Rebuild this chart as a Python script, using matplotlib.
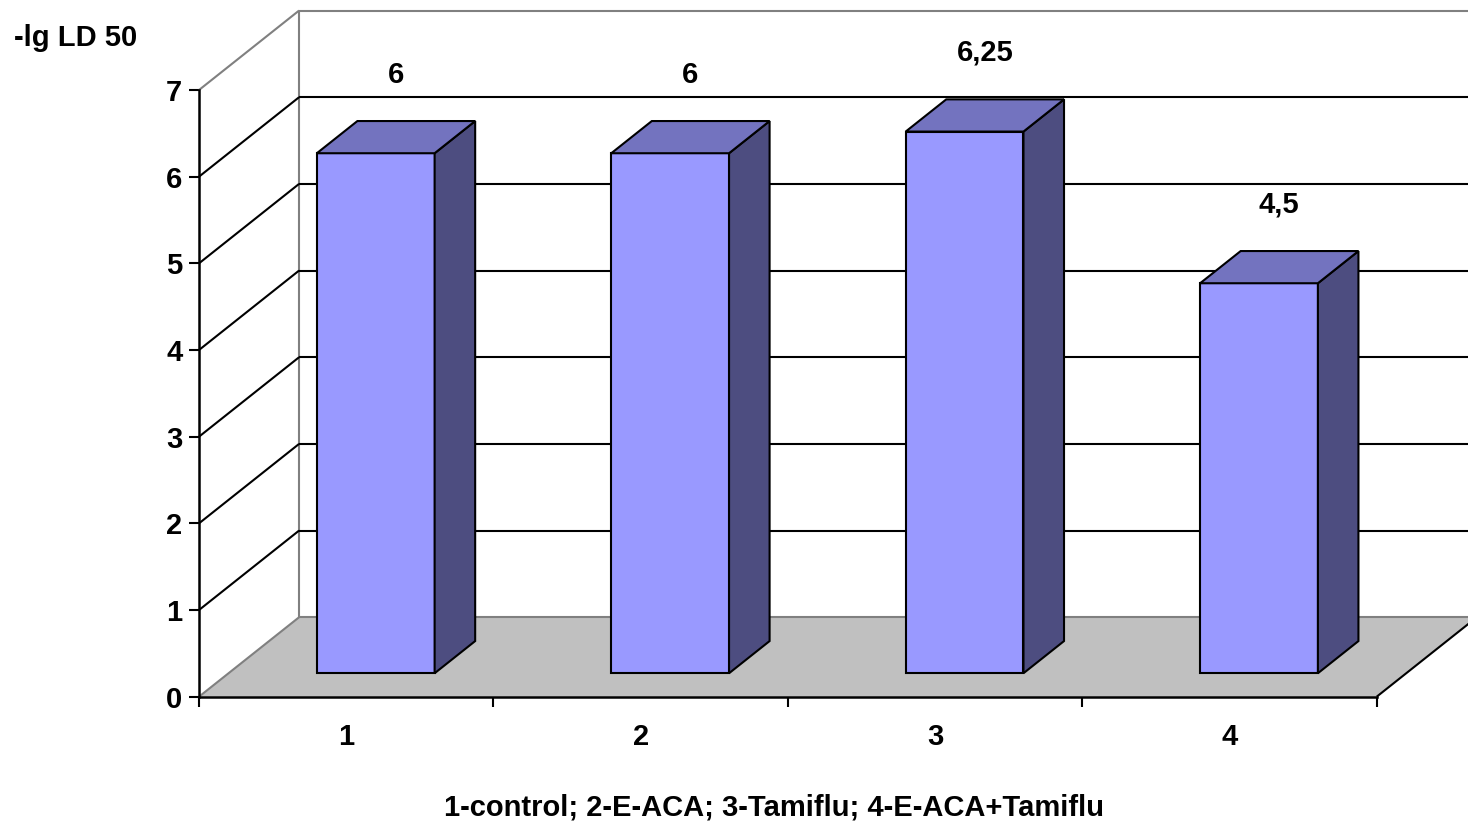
import matplotlib
matplotlib.use('Agg')
import matplotlib.pyplot as plt
from matplotlib.patches import Polygon

plt.rcParams['font.family'] = ['Liberation Sans', 'DejaVu Sans']
plt.rcParams['font.weight'] = 'bold'

# data
groups = ['1', '2', '3', '4']
values = [6, 6, 6.25, 4.5]
labels = ['6', '6', '6,25', '4,5']
yticks = [0, 1, 2, 3, 4, 5, 6, 7]
ymax = 7

# fake 3d depth (in data units)
dx = 0.34
dy = 0.917
d0, d1 = 0.295, 0.70   # bar depth range, fraction of floor depth
bw = 0.40              # bar width, fraction of a category

front_c = '#9999FF'
top_c = '#7373BF'
side_c = '#4D4D80'
floor_c = '#C0C0C0'
gray = '#808080'
fs = 21

fig = plt.figure(figsize=(14.68, 8.27), dpi=100)
ax = fig.add_axes([199/1468, 1-696.7/827, (1376.7-199)/1468, (696.7-90)/827])
n = len(groups)
ax.set_xlim(0, n)
ax.set_ylim(0, ymax)
ax.patch.set_visible(False)

def line(xs, ys, c='black', lw=1.5, z=2):
	ax.plot(xs, ys, color=c, lw=lw, clip_on=False, zorder=z, solid_capstyle='butt')

# floor
ax.add_patch(Polygon([(0, 0), (n, 0), (n+dx, dy), (dx, dy)], closed=True,
	facecolor=floor_c, edgecolor='none', clip_on=False, zorder=1))
line([dx, n+dx], [dy, dy], gray)
line([0, dx], [0, dy], gray)
line([n, n+dx], [0, dy], 'black')

# back wall + left wall
line([dx, dx], [dy, ymax+dy], gray)
line([dx, n+dx], [ymax+dy, ymax+dy], gray)
line([0, dx], [ymax, ymax+dy], gray)
for v in yticks[1:-1]:
	line([dx, n+dx], [v+dy, v+dy], 'black')
	line([0, dx], [v, v+dy], 'black')

# bars
for i, v in enumerate(values):
	x0 = i + 0.5 - bw/2 + d0*dx
	x1 = i + 0.5 + bw/2 + d0*dx
	y0 = d0*dy
	ddx = (d1-d0)*dx
	ddy = (d1-d0)*dy
	front = [(x0, y0), (x1, y0), (x1, y0+v), (x0, y0+v)]
	side = [(x1, y0), (x1+ddx, y0+ddy), (x1+ddx, y0+v+ddy), (x1, y0+v)]
	top = [(x0, y0+v), (x1, y0+v), (x1+ddx, y0+v+ddy), (x0+ddx, y0+v+ddy)]
	for pts, c in [(front, front_c), (side, side_c), (top, top_c)]:
		ax.add_patch(Polygon(pts, closed=True, facecolor=c, edgecolor='black',
			lw=1.5, clip_on=False, zorder=3, joinstyle='miter'))
	ax.annotate(labels[i], ((x0+x1)/2 + ddx/2, y0+v+ddy/2), xytext=(0, 45),
		textcoords='offset points', ha='center', va='center', fontsize=fs,
		fontweight='bold', annotation_clip=False, zorder=4)

# axes
for s in ['top', 'right']:
	ax.spines[s].set_visible(False)
for s in ['left', 'bottom']:
	ax.spines[s].set_linewidth(1.8)
	ax.spines[s].set_zorder(5)
ax.set_yticks(yticks)
ax.set_yticklabels([str(t) for t in yticks], fontsize=fs, fontweight='bold')
ax.tick_params(axis='y', length=7, width=1.5, pad=5)
ax.set_xticks(range(n+1))
ax.set_xticklabels([])
ax.tick_params(axis='x', which='major', length=7, width=1.5)
ax.set_xticks([i+0.5 for i in range(n)], minor=True)
ax.set_xticklabels(groups, minor=True, fontsize=fs, fontweight='bold')
ax.tick_params(axis='x', which='minor', length=0, pad=19)

fig.text(14/1468, 1-38/827, '-lg LD 50', fontsize=fs, fontweight='bold', va='center', ha='left')
fig.text(774/1468, 1-808/827, '1-control; 2-E-ACA; 3-Tamiflu; 4-E-ACA+Tamiflu',
	fontsize=fs, fontweight='bold', va='center', ha='center')

fig.savefig('out.png', dpi=100)
